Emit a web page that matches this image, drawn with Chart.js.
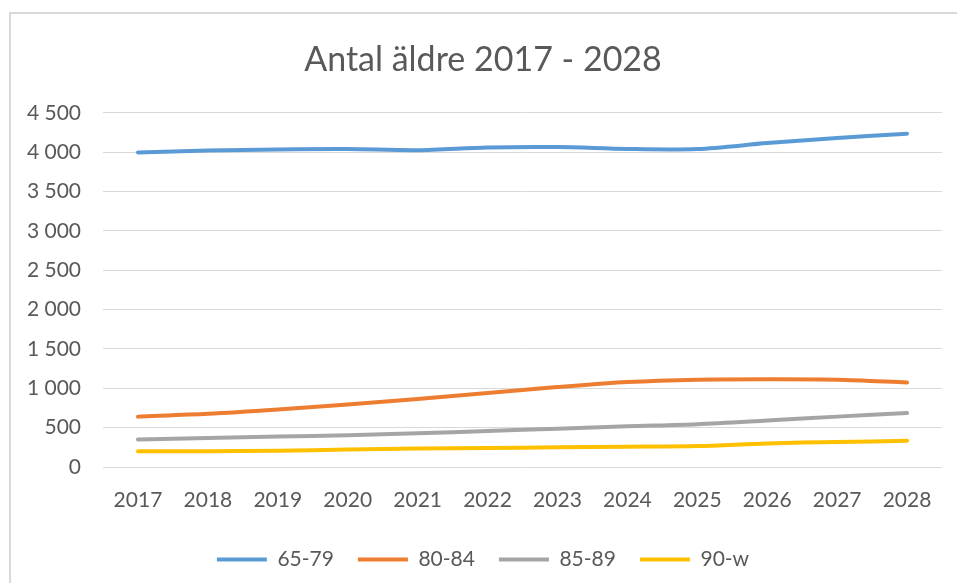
<!DOCTYPE html>
<html>
<head>
<meta charset="utf-8">
<title>Antal äldre 2017 - 2028</title>
<script src="https://cdn.jsdelivr.net/npm/chart.js@4/dist/chart.umd.min.js"></script>
<style>
    html, body { margin: 0; padding: 0; background: #fff; overflow: hidden; }
    #frame {
        position: absolute; left: 9px; top: 12px;
        width: 980px; height: 600px;
        border: 2px solid #d9d9d9;
    }
    #wrap { position: absolute; left: 0; top: 0; width: 957px; height: 583px; }
</style>
</head>
<body>
<div id="frame"></div>
<div id="wrap"><canvas id="chart"></canvas></div>
<script>
// Chart data
const years = ['2017', '2018', '2019', '2020', '2021', '2022', '2023', '2024', '2025', '2026', '2027', '2028'];
const age6579 = [3995, 4020, 4035, 4040, 4025, 4060, 4065, 4040, 4040, 4115, 4180, 4235];
const age8084 = [640, 675, 730, 795, 865, 940, 1015, 1080, 1110, 1115, 1110, 1075];
const age8589 = [350, 368, 386, 403, 428, 458, 487, 517, 543, 590, 640, 686];
const age90w = [200, 200, 207, 222, 235, 242, 250, 258, 266, 300, 318, 332];
const yTicks = [0, 500, 1000, 1500, 2000, 2500, 3000, 3500, 4000, 4500];

const textColor = '#595959';
const gridColor = '#d9d9d9';
const fontFamily = 'Lato, "Open Sans", sans-serif';

function series(label, data, color) {
    return {
        label: label,
        data: data,
        borderColor: color,
        backgroundColor: color,
        borderWidth: 4,
        borderCapStyle: 'round',
        pointRadius: 0,
        pointHoverRadius: 0,
        tension: 0.3,
        fill: false
    };
}

function formatThousands(value) {
    return String(value).replace(/\B(?=(\d{3})+(?!\d))/g, ' ');
}

new Chart(document.getElementById('chart'), {
    type: 'line',
    data: {
        labels: years,
        datasets: [
            series('65-79', age6579, '#5B9BD5'),
            series('80-84', age8084, '#ED7D31'),
            series('85-89', age8589, '#A5A5A5'),
            series('90-w', age90w, '#FFC000')
        ]
    },
    options: {
        responsive: true,
        maintainAspectRatio: false,
        animation: false,
        layout: {
            padding: { left: 24, right: 15, top: 0, bottom: 3 }
        },
        plugins: {
            title: {
                display: true,
                text: 'Antal äldre 2017 - 2028',
                color: textColor,
                font: { family: fontFamily, size: 34, weight: 'normal' },
                padding: { top: 40, bottom: 32 }
            },
            legend: {
                position: 'bottom',
                labels: {
                    usePointStyle: true,
                    pointStyle: 'line',
                    pointStyleWidth: 50,
                    color: textColor,
                    font: { family: fontFamily, size: 21 },
                    padding: 24
                }
            },
            tooltip: { enabled: false }
        },
        scales: {
            x: {
                offset: true,
                grid: { display: false },
                border: { display: false },
                afterFit: function(scale) { scale.height = 58; },
                ticks: {
                    color: textColor,
                    font: { family: fontFamily, size: 21 },
                    padding: 13,
                    maxRotation: 0
                }
            },
            y: {
                min: 0,
                max: 4500,
                afterFit: function(scale) { scale.width = 79; },
                afterBuildTicks: function(scale) {
                    scale.ticks = yTicks.map(function(v) { return { value: v }; });
                },
                grid: { color: gridColor, lineWidth: 1, drawTicks: false },
                border: { display: false },
                ticks: {
                    color: textColor,
                    font: { family: fontFamily, size: 21 },
                    padding: 22,
                    callback: function(value) { return formatThousands(value); }
                }
            }
        }
    }
});
</script>
</body>
</html>
